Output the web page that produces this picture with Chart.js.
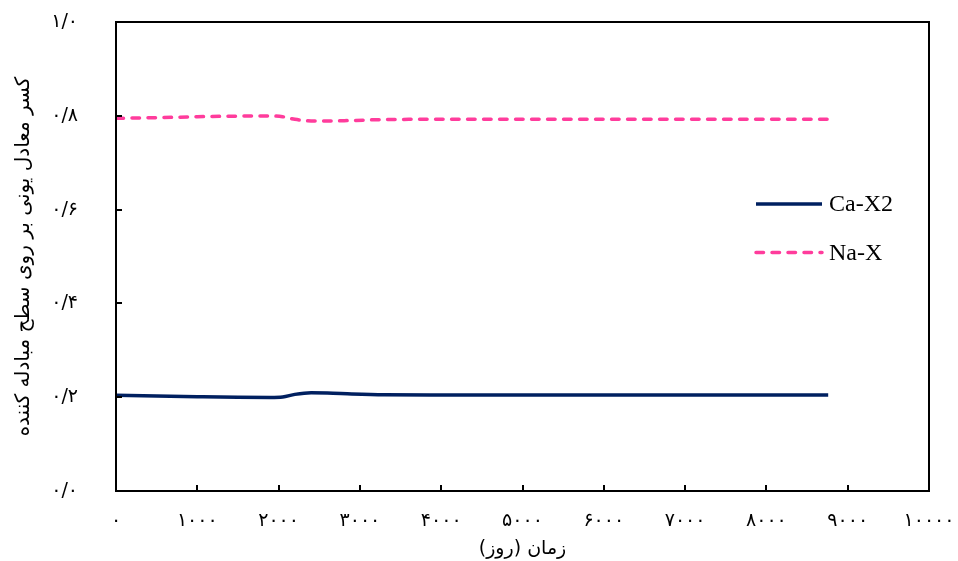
<!DOCTYPE html>
<html lang="fa">
<head>
    <meta charset="UTF-8">
    <title>کسر معادل یونی</title>
    <script src="https://cdn.jsdelivr.net/npm/chart.js"></script>
    <style>
        html, body { margin: 0; padding: 0; background: #fff; }
        #wrap { width: 958px; height: 561px; }
    </style>
</head>
<body>
    <div id="wrap"><canvas id="chart"></canvas></div>

    <script>
        // زمان (روز)
        const days = [0, 500, 1000, 1500, 1900, 2050, 2200, 2400, 2600, 2900, 3300, 4000, 5000, 6000, 7000, 8000, 8760];
        const caX2 = [0.204, 0.2025, 0.201, 0.1998, 0.1995, 0.2005, 0.206, 0.2095, 0.2092, 0.207, 0.2052, 0.2048, 0.2047, 0.2047, 0.2047, 0.2047, 0.2047];
        const naX  = [0.7946, 0.796, 0.798, 0.7993, 0.7996, 0.798, 0.7925, 0.789, 0.7888, 0.790, 0.792, 0.7925, 0.7925, 0.7925, 0.7925, 0.7925, 0.7925];
        const seriesNames = ['Ca-X2', 'Na-X'];

        const faDigits = '۰۱۲۳۴۵۶۷۸۹';
        function toFa(s) {
            return String(s).replace(/[0-9]/g, d => faDigits[+d]);
        }

        // تیک‌های داخلی و قاب دور نمودار
        const framePlugin = {
            id: 'frame',
            afterDatasetsDraw(chart) {
                const ctx = chart.ctx;
                const a = chart.chartArea;
                const xs = chart.scales.x, ys = chart.scales.y;
                ctx.save();
                ctx.strokeStyle = '#000';
                ctx.lineWidth = 2;
                ctx.beginPath();
                xs.ticks.forEach(t => {
                    const px = Math.round(xs.getPixelForValue(t.value));
                    ctx.moveTo(px, a.bottom);
                    ctx.lineTo(px, a.bottom - 6);
                });
                ys.ticks.forEach(t => {
                    const py = Math.round(ys.getPixelForValue(t.value));
                    ctx.moveTo(a.left, py);
                    ctx.lineTo(a.left + 6, py);
                });
                ctx.stroke();
                ctx.strokeRect(a.left, a.top, a.right - a.left, a.bottom - a.top);
                ctx.restore();
            }
        };

        const legendPlugin = {
            id: 'sideLegend',
            afterDraw(chart) {
                const ctx = chart.ctx;
                ctx.save();
                chart.data.datasets.forEach((ds, i) => {
                    const y = 204 + i * 48.5;
                    ctx.strokeStyle = ds.borderColor;
                    ctx.lineWidth = ds.borderWidth;
                    ctx.lineCap = ds.borderCapStyle || 'butt';
                    ctx.setLineDash(ds.borderDash || []);
                    ctx.beginPath();
                    ctx.moveTo(756, y);
                    ctx.lineTo(822, y);
                    ctx.stroke();
                    ctx.setLineDash([]);
                    ctx.fillStyle = '#000';
                    ctx.font = '24px "Liberation Serif"';
                    ctx.textBaseline = 'middle';
                    ctx.textAlign = 'left';
                    ctx.fillText(ds.label, 829, y + 1);
                });
                ctx.restore();
            }
        };

        new Chart(document.getElementById('chart'), {
            type: 'line',
            data: {
                datasets: [
                    {
                        label: seriesNames[0],
                        data: days.map((d, i) => ({ x: d, y: caX2[i] })),
                        borderColor: '#002060',
                        borderWidth: 3.5,
                        pointRadius: 0,
                        cubicInterpolationMode: 'monotone',
                        fill: false
                    },
                    {
                        label: seriesNames[1],
                        data: days.map((d, i) => ({ x: d, y: naX[i] })),
                        borderColor: '#ff3c9c',
                        borderWidth: 3.5,
                        borderDash: [7.5, 8.5],
                        borderCapStyle: 'round',
                        pointRadius: 0,
                        cubicInterpolationMode: 'monotone',
                        fill: false
                    }
                ]
            },
            options: {
                responsive: true,
                maintainAspectRatio: false,
                animation: false,
                layout: { padding: { top: 22, right: 29, left: 0, bottom: 0 } },
                plugins: {
                    legend: { display: false },
                    tooltip: { enabled: false }
                },
                scales: {
                    x: {
                        type: 'linear',
                        min: 0,
                        max: 10000,
                        afterFit(s) {
                            s.height = 70;
                            s.paddingLeft = 0;
                            s.paddingRight = 0;
                        },
                        grid: { display: false, drawTicks: false },
                        border: { display: false },
                        ticks: {
                            stepSize: 1000,
                            maxRotation: 0,
                            padding: 19,
                            color: '#000',
                            font: { family: 'DejaVu Sans', size: 19 },
                            callback: v => toFa(v)
                        },
                        title: {
                            display: true,
                            text: '\u200Fزمان (روز)\u200F',
                            color: '#000',
                            font: { family: 'DejaVu Sans', size: 19 },
                            padding: { top: 0, bottom: 1 }
                        }
                    },
                    y: {
                        min: 0,
                        max: 1,
                        afterFit(s) {
                            s.width = 116;
                            s.paddingTop = 0;
                            s.paddingBottom = 0;
                        },
                        grid: { display: false, drawTicks: false },
                        border: { display: false },
                        ticks: {
                            stepSize: 0.2,
                            padding: 38,
                            color: '#000',
                            font: { family: 'DejaVu Sans', size: 19 },
                            callback: v => toFa(v.toFixed(1).replace('.', '/'))
                        },
                        title: {
                            display: true,
                            text: 'کسر معادل یونی بر روی سطح مبادله کننده',
                            color: '#000',
                            font: { family: 'DejaVu Sans', size: 20 },
                            padding: { top: 12, bottom: 0 }
                        }
                    }
                }
            },
            plugins: [framePlugin, legendPlugin]
        });
    </script>
</body>
</html>
